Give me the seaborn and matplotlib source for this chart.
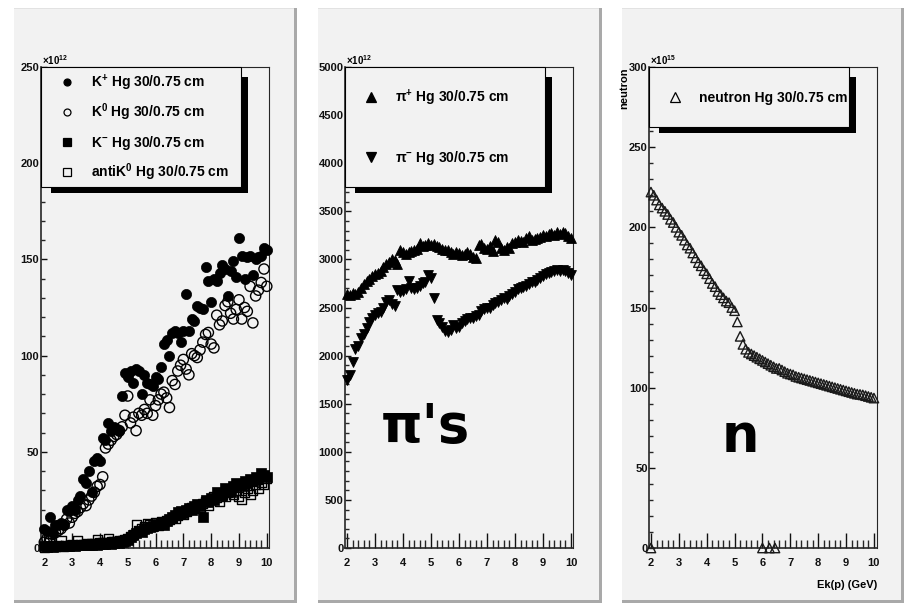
import numpy as np
import pandas as pd
import matplotlib
matplotlib.use("Agg")
import matplotlib.pyplot as plt
from matplotlib.patches import Rectangle
from matplotlib.ticker import MultipleLocator, FormatStrFormatter
import seaborn as sns

# proton kinetic energy Ek(p) in GeV, one bin every 0.1 GeV
ek = np.round(np.arange(2.0, 10.01, 0.1), 1)

# kaon yields, x10^12
k_plus = [10, 9, 16, 8, 12, 12, 13, 12, 20, 19,
          22, 20, 25, 27, 36, 34, 40, 29, 45, 47,
          45, 57, 56, 65, 61, 63, 62, 61, 79, 91,
          89, 92, 86, 93, 92, 80, 90, 86, 85, 84,
          89, 88, 94, 106, 108, 100, 112, 113, 112, 107,
          113, 132, 113, 119, 118, 126, 125, 124, 146, 139,
          128, 140, 139, 143, 147, 145, 131, 144, 149, 141,
          161, 152, 140, 151, 152, 142, 150, 151, 152, 156,
          155]
k_zero = [3, 5, 4, 7, 8, 9, 10, 12, 15, 13,
          16, 18, 19, 21, 23, 22, 25, 27, 29, 32,
          33, 37, 52, 54, 56, 58, 59, 61, 63, 69,
          79, 65, 68, 61, 70, 69, 72, 70, 77, 69,
          74, 77, 80, 81, 78, 73, 87, 85, 92, 95,
          98, 93, 90, 101, 100, 99, 103, 107, 111, 112,
          106, 104, 121, 116, 118, 126, 128, 122, 119, 124,
          129, 119, 125, 123, 136, 117, 131, 134, 138, 145,
          136]
k_minus = [1, 0.5, 1, 0.5, 1, 1, 0.8, 1, 1.2, 1,
           1.5, 1.2, 1.5, 1.3, 1.5, 1.6, 1.8, 1.5, 2, 1.8,
           2, 2.2, 2, 2.5, 2.3, 2.8, 3, 2.7, 3.2, 3.5,
           4, 5.5, 6.5, 8, 9, 8.5, 10, 10.5, 11, 11.5,
           12, 12.5, 13, 12, 14, 15, 16, 17, 18.5, 19,
           18, 20, 21, 20, 22, 23, 22, 16, 25, 24,
           26, 25, 29, 28, 27, 31, 30, 29, 32, 34,
           33, 32, 35, 34, 36, 35, 37, 36, 39, 38,
           37]
anti_k_zero = [0.5, 1, 3, 1, 0.8, 1.2, 4, 1, 1.5, 1.2,
               1.8, 1.5, 4, 1.8, 2, 2.2, 2, 2.5, 2.3, 4.5,
               2.6, 3, 2.8, 5, 3.2, 3.5, 3.3, 3.8, 4, 4.5,
               5, 6, 7, 12, 9, 10, 11, 12.5, 12, 11,
               13, 11.5, 14, 13, 14.5, 15, 16, 15.5, 17, 18,
               17.5, 19, 20, 21, 20.5, 22, 21, 23, 24, 22,
               25, 27, 26, 24, 28, 27, 29, 30, 28, 30,
               27, 25, 29, 31, 28, 30, 33, 31, 34, 33,
               36]

# pion yields, x10^12
pi_plus = [2640, 2630, 2650, 2640, 2660, 2700, 2740, 2780, 2800, 2830,
           2850, 2860, 2880, 2920, 2950, 2970, 3000, 2990, 2950, 3100,
           3080, 3060, 3080, 3090, 3100, 3110, 3170, 3140, 3150, 3170,
           3150, 3160, 3140, 3130, 3110, 3100, 3100, 3080, 3060, 3080,
           3070, 3050, 3060, 3080, 3060, 3020, 3010, 3150, 3160, 3120,
           3110, 3140, 3090, 3200, 3180, 3120, 3100, 3130, 3120, 3170,
           3180, 3200, 3190, 3180, 3220, 3240, 3200, 3210, 3220, 3230,
           3250, 3240, 3260, 3270, 3250, 3280, 3260, 3290, 3270, 3240,
           3220]
pi_minus = [1750, 1800, 1930, 2070, 2100, 2180, 2220, 2290, 2350, 2390,
            2420, 2440, 2450, 2500, 2560, 2580, 2540, 2520, 2680, 2660,
            2670, 2690, 2780, 2700, 2690, 2700, 2720, 2750, 2770, 2840,
            2810, 2600, 2370, 2340, 2300, 2260, 2250, 2270, 2320, 2290,
            2300, 2340, 2360, 2380, 2390, 2390, 2410, 2420, 2460, 2480,
            2490, 2500, 2530, 2550, 2560, 2580, 2600, 2590, 2620, 2640,
            2660, 2690, 2700, 2710, 2720, 2740, 2760, 2770, 2790, 2810,
            2830, 2850, 2860, 2870, 2880, 2890, 2880, 2890, 2880, 2860,
            2840]

# neutron yield, x10^15
neutron = [222, 220, 217, 214, 212, 210, 208, 205, 203, 200,
           197, 195, 192, 189, 187, 184, 181, 178, 176, 173,
           171, 168, 165, 163, 160, 158, 156, 154, 153, 150,
           148, 141, 132, 127, 124, 122, 121, 120, 119, 118,
           117, 116, 115, 114, 113, 112, 112, 111, 110, 109,
           108.5, 108, 107, 106.5, 106, 105.5, 105, 104.5, 104, 103.5,
           103, 102.5, 102, 101.5, 101, 100.5, 100, 99.5, 99, 98.5,
           98, 97.5, 97, 96.5, 96, 95.8, 95.5, 95, 94.5, 94,
           93.5]
# empty bins drawn at zero
neutron_zero_ek = [2.0, 6.0, 6.25, 6.45]
neutron_zero = [0, 0, 0, 0]

kaons = pd.DataFrame({"ek": ek, "K+": k_plus, "K0": k_zero,
                      "K-": k_minus, "antiK0": anti_k_zero})
pions = pd.DataFrame({"ek": ek, "pi+": pi_plus, "pi-": pi_minus})
neutrons = pd.DataFrame({"ek": ek, "n": neutron})
neutrons_empty = pd.DataFrame({"ek": neutron_zero_ek, "n": neutron_zero})

sns.set_theme(style="ticks")
plt.rcParams["font.family"] = ["Liberation Sans", "DejaVu Sans"]
plt.rcParams["font.weight"] = "bold"
plt.rcParams["mathtext.default"] = "regular"
plt.rcParams["text.color"] = "black"

W, H = 906, 607
AX_TOP, AX_BOT = 67, 548
BG = "#f2f2f2"
fig = plt.figure(figsize=(W / 100, H / 100), dpi=100, facecolor="white")


def px_rect(x0, y0, x1, y1, **kw):
    fig.add_artist(Rectangle((x0 / W, 1 - y1 / H), (x1 - x0) / W, (y1 - y0) / H,
                             transform=fig.transFigure, zorder=-10, **kw))


def make_panel(px0, px1, ax_l, ax_r, xlim, ymax, ymaj, ymin, expo):
    # ROOT style pad with a bevel
    px_rect(px0, 8, px1, 603, fc=BG, ec="none")
    px_rect(px0, 8, px1, 9, fc="#e2e2e2", ec="none")
    px_rect(px1 - 3, 8, px1, 603, fc="#a9a9a9", ec="none")
    px_rect(px0, 600, px1, 603, fc="#a9a9a9", ec="none")
    ax = fig.add_axes([ax_l / W, (H - AX_BOT) / H, (ax_r - ax_l) / W,
                       (AX_BOT - AX_TOP) / H])
    ax.set_facecolor("none")
    ax.set_xlim(*xlim)
    ax.set_ylim(0, ymax)
    ax.xaxis.set_major_locator(MultipleLocator(1))
    ax.xaxis.set_minor_locator(MultipleLocator(0.2))
    ax.yaxis.set_major_locator(MultipleLocator(ymaj))
    ax.yaxis.set_minor_locator(MultipleLocator(ymin))
    ax.xaxis.set_major_formatter(FormatStrFormatter("%d"))
    ax.yaxis.set_major_formatter(FormatStrFormatter("%d"))
    ax.tick_params(axis="x", which="major", direction="in", length=10.5, width=1,
                   pad=7, labelsize=8, colors="#111")
    ax.tick_params(axis="x", which="minor", direction="in", length=5.5, width=1)
    ax.tick_params(axis="y", which="major", direction="in", length=4.5, width=1,
                   pad=1, labelsize=8, colors="#111")
    ax.tick_params(axis="y", which="minor", direction="in", length=2.8, width=1)
    for side in ["top", "right"]:
        ax.spines[side].set_visible(True)
        ax.spines[side].set_linewidth(0.8)
    for side in ["left", "bottom"]:
        ax.spines[side].set_linewidth(1.2)
    ax.text(0.005, 1.0, r"$\times10^{%d}$" % expo, transform=ax.transAxes,
            ha="left", va="bottom", fontsize=7)
    ax.ax_w = ax_r - ax_l
    return ax


def draw_legend(ax, height, entries):
    ah = AX_BOT - AX_TOP

    def to_ax(dx, dy):
        return dx / ax.ax_w, 1 - dy / ah

    sx0, sy0 = to_ax(10, 10)
    sx1, sy1 = to_ax(207, height + 6)
    ax.add_patch(Rectangle((sx0, sy1), sx1 - sx0, sy0 - sy1, transform=ax.transAxes,
                           fc="black", ec="none", clip_on=False, zorder=5))
    bx1, by1 = to_ax(200, height)
    ax.add_patch(Rectangle((0, by1), bx1, 1 - by1, transform=ax.transAxes,
                           fc=BG, ec="black", lw=0.8, clip_on=False, zorder=6))
    n = len(entries)
    for i, (marker, filled, ms, label) in enumerate(entries):
        cy = (i + 0.5) * height / n
        mx, my = to_ax(26, cy)
        tx, ty = to_ax(50, cy + 5)
        ax.plot([mx], [my], ls="none", marker=marker, ms=ms,
                mfc="black" if filled else "none", mec="black", mew=0.9,
                transform=ax.transAxes, clip_on=False, zorder=7)
        ax.text(tx, ty, label, transform=ax.transAxes, fontsize=10,
                ha="left", va="baseline", zorder=7)


# kaons
ax1 = make_panel(14, 297, 40.7, 269, (1.87, 10.08), 250, 50, 10, 12)
sns.scatterplot(data=kaons, x="ek", y="antiK0", ax=ax1, marker="s", s=42,
                facecolor="none", edgecolor="black", linewidth=1.0, clip_on=False, zorder=3)
sns.scatterplot(data=kaons, x="ek", y="K-", ax=ax1, marker="s", s=42,
                color="black", edgecolor="black", linewidth=0.5, clip_on=False, zorder=3)
sns.scatterplot(data=kaons, x="ek", y="K0", ax=ax1, marker="o", s=54,
                facecolor="none", edgecolor="black", linewidth=1.0, clip_on=False, zorder=3)
sns.scatterplot(data=kaons, x="ek", y="K+", ax=ax1, marker="o", s=54,
                color="black", edgecolor="black", linewidth=0.5, clip_on=False, zorder=3)
draw_legend(ax1, 120, [("o", True, 5, r"K$^{+}$ Hg 30/0.75 cm"),
                       ("o", False, 5, r"K$^{0}$ Hg 30/0.75 cm"),
                       ("s", True, 5.5, r"K$^{-}$ Hg 30/0.75 cm"),
                       ("s", False, 5.5, r"antiK$^{0}$ Hg 30/0.75 cm")])

# pions
ax2 = make_panel(318, 602, 345, 573, (1.93, 10.07), 5000, 500, 100, 12)
sns.scatterplot(data=pions, x="ek", y="pi+", ax=ax2, marker="^", s=50,
                color="black", edgecolor="black", linewidth=0.6, clip_on=False, zorder=3)
sns.scatterplot(data=pions, x="ek", y="pi-", ax=ax2, marker="v", s=50,
                color="black", edgecolor="black", linewidth=0.6, clip_on=False, zorder=3)
draw_legend(ax2, 120, [("^", True, 7, r"π$^{+}$ Hg 30/0.75 cm"),
                       ("v", True, 7, r"π$^{-}$ Hg 30/0.75 cm")])
ax2.text(4.8, 1100, "π's", fontsize=38, fontweight="bold", family="DejaVu Sans",
         color="black", ha="center", va="baseline")

# neutrons
ax3 = make_panel(622, 904, 649, 877, (1.93, 10.11), 300, 50, 10, 15)
sns.scatterplot(data=neutrons, x="ek", y="n", ax=ax3, marker="^", s=46,
                facecolor="none", edgecolor="#1a1a1a", linewidth=1.0, clip_on=False, zorder=3)
sns.scatterplot(data=neutrons_empty, x="ek", y="n", ax=ax3, marker="^", s=46,
                facecolor="none", edgecolor="#1a1a1a", linewidth=1.0, clip_on=False, zorder=3)
draw_legend(ax3, 60, [("^", False, 6.5, "neutron Hg 30/0.75 cm")])
ax3.text(5.21, 60, "n", fontsize=38, fontweight="bold", family="DejaVu Sans",
         color="black", ha="center", va="baseline")
ax3.text(-0.108, 1.0, "neutron", transform=ax3.transAxes, rotation=90,
         ha="center", va="top", fontsize=8)
ax3.text(1.0, -0.077, "Ek(p) (GeV)", transform=ax3.transAxes,
         ha="right", va="center", fontsize=8)

for ax in (ax1, ax2, ax3):
    ax.set_xlabel("")
    ax.set_ylabel("")

fig.savefig("out.png", dpi=100, facecolor="white")
